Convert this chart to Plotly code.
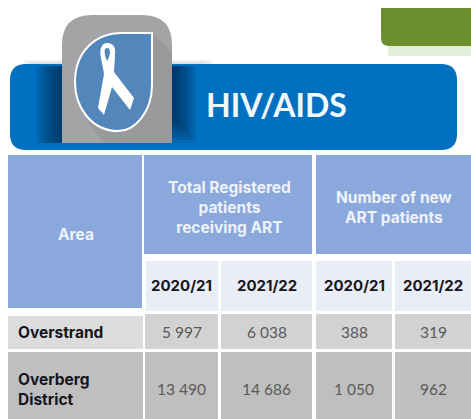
import plotly.graph_objects as go

title = "HIV/AIDS"
area_header = "Area"
group_headers = ["Total Registered<br>patients<br>receiving ART", "Number of new<br>ART patients"]
years = ["2020/21", "2021/22", "2020/21", "2021/22"]
areas = ["Overstrand", "Overberg<br>District"]
values = [["5 997", "6 038", "388", "319"],
          ["13 490", "14 686", "1 050", "962"]]

col_x = [(145, 218), (221, 312), (316, 392), (395, 471)]
row_y = [(314, 349), (352, 419)]
row_text_y = [332, 389]
row_label_fill = ["#dcdcdc", "#bfbfbf"]
row_cell_fill = ["#d2d2d2", "#bfbfbf"]
HEAD = "#8aa8dc"
FONT = "Inter"

shapes, ann = [], []


def rect(x0, y0, x1, y1, color, opacity=1):
    shapes.append(dict(type="rect", xref="x", yref="y", x0=x0, y0=y0, x1=x1, y1=y1,
                       fillcolor=color, opacity=opacity, line_width=0, layer="below"))


def path(d, fill, line=None, width=0, opacity=1):
    shapes.append(dict(type="path", xref="x", yref="y", path=d, fillcolor=fill, opacity=opacity,
                       line=dict(color=line or fill, width=width), layer="below"))


def text(x, y, s, size, color, bold=False, align="center", anchor="center", family=FONT):
    ann.append(dict(xref="x", yref="y", x=x, y=y, text=f"<b>{s}</b>" if bold else s, showarrow=False,
                    align=align, xanchor=anchor, yanchor="middle",
                    font=dict(family=family, size=size, color=color)))


# green corner block
rect(388, 46, 471, 56, "#e4efd9")
path("M381,8 L471,8 L471,46 L389,46 Q381,46 381,38 Z", "#6a8f2c")

# soft glow above the banner
for i in range(4):
    rect(172, 60 + i, 212 - i * 3, 64, "#c8c8c8", 0.2)
    rect(24 + i * 3, 60 + i, 62, 64, "#c8c8c8", 0.2)

# blue banner
path("M26,64 L441,64 Q457,64 457,80 L457,134 Q457,150 441,150 L26,150 Q10,150 10,134 L10,80 Q10,64 26,64 Z",
     "#0070c0")

# banner shadow beside the tab
for i in range(9):
    rect(36 + i * 3, 66, 62, 143, "#00223f", 0.11)
    rect(172, 66, 196 - i * 2.6, 143 - i * 3, "#00223f", 0.1)

# grey tab
path("M62,143 L62,45 Q62,15 92,15 L142,15 Q172,15 172,45 L172,143 Z", "#a4a4a6")
path("M152,33 L172,52 L172,143 L104,143 L85,118 Z", "#9a9a9c")

# shield
path("M152,33 L152,85 C152,112 135,131 118,131 C92,131 75,108 75,82 C75,52 95,33 122,33 Z",
     "#5387bb", "#ffffff", 2)

# ribbon
path("M107,43 C113,43 116,47 115,54 C115,61 114,67 114,72 L134,98 L130,110 L112,87 L104,115 L98,108 "
     "L104,74 C103,68 102,64 101,58 C99,49 102,43 107,43 Z", "#ffffff")
path("M107,48 C105,48 104,51 105,54 C105,56 106,59 107,61 C109,58 110,54 110,52 C110,50 109,48 107,48 Z", "#5387bb")

# headers
rect(8, 155, 142, 308, HEAD)
rect(144, 155, 312, 254, HEAD)
rect(316, 155, 471, 254, HEAD)

# sub-header cells
for x0, x1 in col_x:
    rect(x0 + 1 if x0 == 145 else x0, 261, x1, 311, "#e9edf6")

# rows
for r, (y0, y1) in enumerate(row_y):
    rect(8, y0 + (2 if r == 0 else 0), 143, y1, row_label_fill[r])
    for x0, x1 in col_x:
        rect(x0, y0, x1, y1, row_cell_fill[r])

# header texts
text(76, 234, area_header, 15.5, "#eef2fa", True)
text(229, 207, group_headers[0], 15.5, "#eef2fa", True)
text(394, 207, group_headers[1], 15.5, "#eef2fa", True)

for (x0, x1), y in zip(col_x, years):
    text((x0 + x1) / 2, 285, y, 15, "#15151c", True)

for r, mid in enumerate(row_text_y):
    text(16, mid, areas[r], 15.5, "#15151c", True, "left", "left")
    for (x0, x1), v in zip(col_x, values[r]):
        text((x0 + x1) / 2, mid, v, 15.5, "#5a5a5a", family="Lato")

# title
text(276, 104, title, 32, "#f4f8fb", True, family="Lato")

fig = go.Figure()
fig.update_layout(
    width=471, height=419, margin=dict(l=0, r=0, t=0, b=0),
    paper_bgcolor="#ffffff", plot_bgcolor="#ffffff", showlegend=False,
    xaxis=dict(range=[0, 471], visible=False, fixedrange=True),
    yaxis=dict(range=[419, 0], visible=False, fixedrange=True),
    shapes=shapes, annotations=ann,
)
fig.write_html("out.html", config={"displayModeBar": False},
               post_script="document.body.style.margin='0';document.documentElement.style.overflow='hidden';")
